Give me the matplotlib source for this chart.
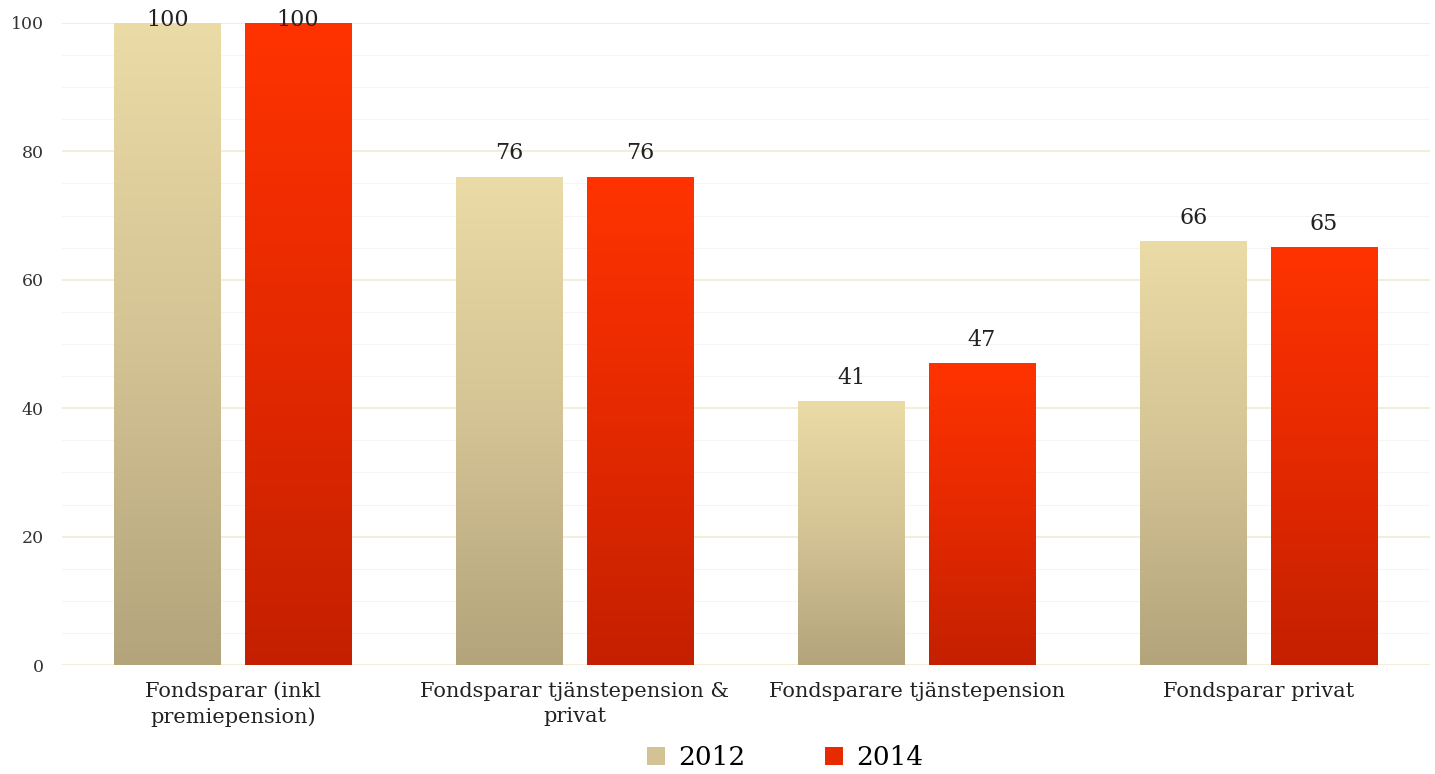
import numpy as np
import matplotlib
matplotlib.use("Agg")
import matplotlib.pyplot as plt
from matplotlib.patches import Patch
from matplotlib.colors import LinearSegmentedColormap

categories = ["Fondsparar (inkl\npremiepension)", "Fondsparar tjänstepension &\nprivat",
              "Fondsparare tjänstepension", "Fondsparar privat"]
series_names = ["2012", "2014"]
values_2012 = [100, 76, 41, 66]
values_2014 = [100, 76, 47, 65]

FONT = "DejaVu Serif"
plt.rcParams['font.family'] = [FONT, 'DejaVu Sans']

fig = plt.figure(figsize=(14.35, 7.74), dpi=100)
ax = fig.add_axes([0.0432, 0.1408, 0.9533, 0.8295])

cmap_2012 = LinearSegmentedColormap.from_list("c12", ["#B3A47C", "#D4C394", "#EBDBA6"])
cmap_2014 = LinearSegmentedColormap.from_list("c14", ["#C42000", "#E52900", "#FF3300"])

x = np.arange(len(categories))
width = 0.31
offsets = [-0.192, 0.19]
grad = np.linspace(0, 1, 256).reshape(-1, 1)

for vals, off, cmap in [(values_2012, offsets[0], cmap_2012), (values_2014, offsets[1], cmap_2014)]:
    for xi, v in zip(x, vals):
        x0 = xi + off - width / 2
        ax.imshow(grad, extent=[x0, x0 + width, 0, v], origin="lower", aspect="auto",
                  cmap=cmap, zorder=3, interpolation="bilinear")
        ax.text(xi + off, min(v + 3.7, 100.5), f"{v}", ha="center", va="center",
                fontsize=16, color="#222222", zorder=4, clip_on=False)

ax.set_xlim(-0.5, 3.5)
ax.set_ylim(0, 100)
ax.set_yticks(np.arange(0, 101, 20))
ax.set_yticks(np.arange(0, 101, 5), minor=True)
ax.grid(which="major", axis="y", color="#F0EBD0", linewidth=1.2, zorder=0)
ax.grid(which="minor", axis="y", color="#F5F5F5", linewidth=0.8, zorder=0)
ax.set_axisbelow(True)
for s in ax.spines.values():
    s.set_visible(False)
ax.tick_params(axis="both", which="both", length=0)
ax.tick_params(axis="y", labelsize=12.5, labelcolor="#333333", pad=13)
ax.set_xticks(x)
ax.set_xticklabels(categories, fontsize=15, color="#222222", linespacing=1.4)
ax.tick_params(axis="x", pad=12)

handles = [Patch(facecolor="#D2C294", label="2012"), Patch(facecolor="#E82A00", label="2014")]
fig.legend(handles=handles, loc="lower center", bbox_to_anchor=(0.547, -0.026), ncol=2,
           frameon=False, fontsize=19, handlelength=0.7, handleheight=0.7,
           columnspacing=3.0, handletextpad=0.5)

fig.savefig("out.png", dpi=100)
